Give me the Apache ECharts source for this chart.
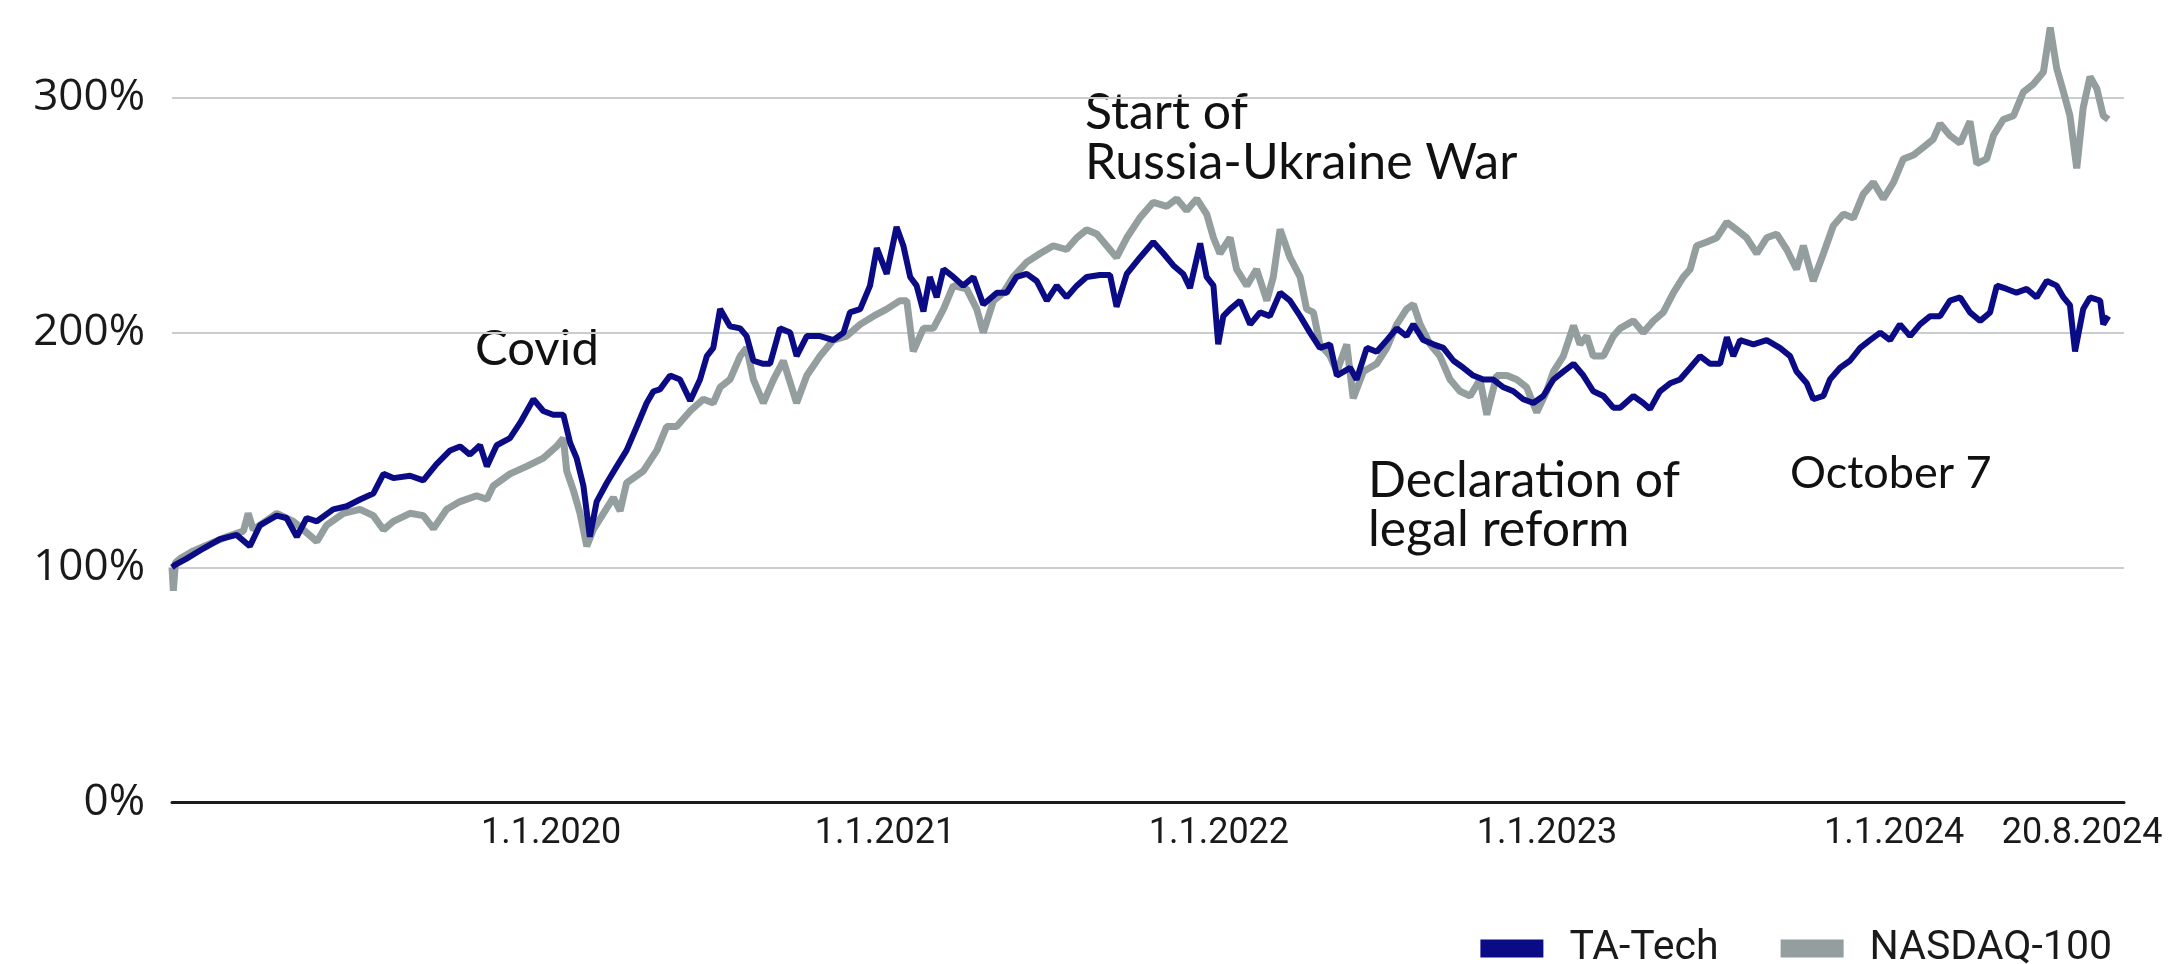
<!DOCTYPE html>
<html>
<head>
<meta charset="utf-8">
<script src="https://cdn.jsdelivr.net/npm/echarts@6.0.0/dist/echarts.min.js"></script>
<style>
  html, body { margin: 0; padding: 0; background: #fff; }
  #chart { width: 2173px; height: 964px; }
</style>
</head>
<body>
<div id="chart"></div>
<script>
// x values are years since 1.1.2019
const taTechYears = [0.000, 0.009, 0.043, 0.092, 0.141, 0.190, 0.229, 0.259, 0.308, 0.337, 0.367, 0.396, 0.426, 0.474, 0.514, 0.553, 0.592, 0.622, 0.651, 0.700, 0.739, 0.778, 0.818, 0.847, 0.876, 0.906, 0.926, 0.955, 0.994, 1.024, 1.063, 1.092, 1.121, 1.151, 1.171, 1.190, 1.210, 1.229, 1.249, 1.279, 1.308, 1.337, 1.367, 1.396, 1.416, 1.435, 1.465, 1.494, 1.524, 1.553, 1.573, 1.592, 1.612, 1.641, 1.671, 1.690, 1.710, 1.739, 1.759, 1.788, 1.818, 1.837, 1.867, 1.906, 1.945, 1.975, 1.994, 2.024, 2.053, 2.073, 2.102, 2.131, 2.151, 2.171, 2.190, 2.210, 2.229, 2.249, 2.269, 2.298, 2.327, 2.357, 2.386, 2.426, 2.455, 2.484, 2.514, 2.543, 2.573, 2.602, 2.631, 2.661, 2.690, 2.729, 2.759, 2.778, 2.808, 2.847, 2.886, 2.916, 2.945, 2.974, 2.994, 3.024, 3.043, 3.063, 3.077, 3.092, 3.112, 3.141, 3.171, 3.200, 3.229, 3.259, 3.288, 3.318, 3.347, 3.376, 3.406, 3.426, 3.465, 3.484, 3.514, 3.543, 3.573, 3.602, 3.631, 3.651, 3.680, 3.710, 3.739, 3.769, 3.798, 3.827, 3.857, 3.886, 3.916, 3.945, 3.974, 4.004, 4.033, 4.063, 4.092, 4.122, 4.151, 4.180, 4.210, 4.239, 4.259, 4.298, 4.327, 4.347, 4.376, 4.406, 4.435, 4.465, 4.494, 4.524, 4.553, 4.573, 4.592, 4.612, 4.651, 4.690, 4.729, 4.759, 4.778, 4.808, 4.827, 4.857, 4.876, 4.906, 4.935, 4.965, 4.994, 5.024, 5.053, 5.082, 5.112, 5.141, 5.171, 5.200, 5.229, 5.259, 5.288, 5.318, 5.347, 5.367, 5.396, 5.425, 5.455, 5.484, 5.514, 5.543, 5.563, 5.582, 5.597, 5.621, 5.641, 5.671, 5.680, 5.695];
const taTech = [100, 101, 103.7, 108, 112, 113.8, 109, 118, 122, 121, 113, 121, 119.6, 124.7, 126, 128.9, 131.4, 139.8, 138, 139, 137, 144, 149.8, 151.5, 148, 152, 143, 152, 155, 161.6, 171.6, 166.6, 165, 165, 153, 146.5, 134.7, 113, 128, 136, 143, 149.8, 160, 170, 175, 175.8, 181.7, 180, 171, 180, 190, 193.5, 210, 202.7, 201.8, 198.5, 188, 186.7, 186.7, 201.8, 200, 190, 198.5, 198.5, 196.8, 200, 208.6, 210, 220, 236, 225, 245, 237, 223.7, 220, 209, 223.7, 215, 227, 223.7, 220, 223.7, 212, 217, 217, 223.7, 225, 222, 213.6, 220, 215, 220, 223.7, 224.5, 224.5, 211, 225, 232, 238.6, 233.7, 228.6, 225, 219, 238, 223.7, 220, 195, 207, 210, 213.6, 203.5, 208.6, 207, 217, 213.6, 207, 200, 193.5, 195, 181.7, 185, 180, 193.5, 191.8, 196.8, 201.8, 198.5, 203.5, 196.8, 195, 193.5, 188, 185, 181.7, 180, 180, 176.7, 175, 171.6, 170, 173, 180, 183.4, 186.7, 181.7, 175, 173, 168, 168, 173, 170, 167.4, 175, 178.4, 180, 185, 190, 186.7, 186.7, 198, 190, 196.8, 195, 196.8, 193.5, 190, 183.4, 178.4, 171.6, 173, 180, 185, 188, 193.5, 196.8, 200, 196.8, 203.5, 198.5, 203.5, 207, 207, 213.6, 215, 208.6, 205, 208.6, 220, 218.6, 217, 218.6, 215, 222, 220, 215, 211.7, 192, 210, 215, 213.6, 203.5, 207];

const nasdaqYears = [0.000, 0.004, 0.010, 0.024, 0.063, 0.112, 0.161, 0.210, 0.224, 0.239, 0.259, 0.308, 0.357, 0.386, 0.426, 0.455, 0.504, 0.553, 0.592, 0.622, 0.651, 0.700, 0.739, 0.769, 0.808, 0.847, 0.896, 0.926, 0.945, 0.994, 1.043, 1.092, 1.131, 1.151, 1.161, 1.180, 1.200, 1.220, 1.239, 1.269, 1.298, 1.318, 1.337, 1.386, 1.426, 1.455, 1.484, 1.524, 1.563, 1.592, 1.612, 1.641, 1.671, 1.690, 1.710, 1.739, 1.769, 1.798, 1.837, 1.867, 1.906, 1.945, 1.984, 2.024, 2.063, 2.102, 2.141, 2.161, 2.180, 2.210, 2.239, 2.269, 2.298, 2.337, 2.367, 2.386, 2.416, 2.445, 2.474, 2.514, 2.553, 2.592, 2.631, 2.661, 2.690, 2.720, 2.749, 2.778, 2.808, 2.847, 2.886, 2.926, 2.955, 2.984, 3.014, 3.043, 3.063, 3.082, 3.112, 3.131, 3.161, 3.190, 3.220, 3.239, 3.259, 3.288, 3.318, 3.337, 3.357, 3.376, 3.406, 3.426, 3.455, 3.474, 3.504, 3.543, 3.573, 3.602, 3.631, 3.651, 3.671, 3.700, 3.729, 3.759, 3.788, 3.818, 3.847, 3.867, 3.896, 3.926, 3.955, 3.984, 4.014, 4.043, 4.063, 4.092, 4.122, 4.141, 4.161, 4.180, 4.210, 4.239, 4.259, 4.298, 4.327, 4.357, 4.386, 4.416, 4.445, 4.465, 4.484, 4.514, 4.543, 4.573, 4.602, 4.631, 4.661, 4.690, 4.720, 4.749, 4.778, 4.798, 4.827, 4.857, 4.886, 4.916, 4.945, 4.974, 5.004, 5.033, 5.063, 5.092, 5.122, 5.151, 5.180, 5.200, 5.229, 5.259, 5.288, 5.308, 5.337, 5.357, 5.386, 5.416, 5.445, 5.474, 5.504, 5.524, 5.543, 5.563, 5.582, 5.602, 5.621, 5.641, 5.661, 5.680, 5.695];
const nasdaq = [100, 90, 102, 103.7, 107, 110, 113, 115.4, 123, 116, 118, 123, 119.6, 116, 111, 118, 123, 124.7, 122, 116, 119.6, 123, 122, 116.5, 124.7, 128, 130.5, 129, 134.7, 139.8, 143, 146.5, 151.5, 155, 141, 133, 123, 109, 116, 123, 129.7, 124, 136, 141, 149.8, 160, 160, 166.6, 171.6, 170, 176.7, 180, 190, 193.5, 180, 170, 180, 188, 170, 181.7, 190, 196.8, 198.5, 203.5, 207, 210, 213.6, 213.6, 192, 201.8, 201.8, 210, 220, 218.6, 210, 200, 213.6, 217, 223.7, 230, 233.7, 237, 235.4, 240.4, 243.8, 242, 237, 232, 240.4, 249, 255.5, 253.8, 257, 252, 257, 250.5, 240.4, 233.7, 240.4, 227, 220, 227, 213.6, 223.7, 244, 232, 223.7, 210, 208.6, 195, 190, 183.4, 195, 172, 183.4, 186.7, 193.5, 203.5, 210, 212, 203.5, 195, 190, 180, 175, 173, 180, 165, 181.7, 181.7, 180, 176.7, 166, 175, 183.4, 190, 203, 195, 198.5, 190, 190, 198.5, 201.8, 205, 200, 205, 208.6, 217, 223.7, 227, 237, 238.6, 240.4, 247, 243.8, 240.4, 233.7, 240.4, 242, 235.4, 227, 237, 222, 233.7, 245.5, 250.5, 248.8, 259, 264, 257, 264, 274, 275.7, 279, 282.4, 289, 284, 280.7, 290, 272, 274, 284, 290.8, 292.4, 302.5, 305.8, 311, 330, 312.6, 302.5, 292.4, 270, 295.8, 309, 304, 292.4, 290.8];

const xTickPos = [1.115, 2.097, 3.079, 4.044, 5.065, 5.618];
const xTickLabels = ['1.1.2020', '1.1.2021', '1.1.2022', '1.1.2023', '1.1.2024', '20.8.2024'];

const chart = echarts.init(document.getElementById('chart'));

const tickFont = "Roboto, 'Noto Sans', sans-serif";
const note = "Lato, 'Noto Sans', sans-serif";

const option = {
  animation: false,
  backgroundColor: '#ffffff',
  grid: { left: 172, right: 49, top: 4, bottom: 162 },
  legend: {
    data: ['TA-Tech', 'NASDAQ-100'],
    right: 56,
    top: 923,
    icon: 'rect',
    itemWidth: 63,
    itemHeight: 18,
    itemGap: 62,
    textStyle: {
      fontFamily: tickFont,
      fontSize: 41,
      color: '#1a1a1a',
      padding: [0, 0, 0, 21]
    }
  },
  xAxis: {
    type: 'value',
    min: 0,
    max: 5.741,
    axisLine: { show: true, onZero: false, lineStyle: { color: '#1a1a1a', width: 3 } },
    axisTick: { show: false },
    splitLine: { show: false },
    axisLabel: {
      customValues: xTickPos,
      formatter: v => {
        let best = 0
        xTickPos.forEach((p, i) => {
          if (Math.abs(p - v) < Math.abs(xTickPos[best] - v)) best = i
        })
        return xTickLabels[best]
      },
      fontFamily: tickFont,
      fontSize: 36,
      lineHeight: 40,
      color: '#1a1a1a',
      margin: 12
    }
  },
  yAxis: {
    type: 'value',
    min: 0,
    max: 340,
    interval: 100,
    axisLine: { show: false },
    axisTick: { show: false },
    splitLine: {
      show: true,
      showMinLine: false,
      showMaxLine: false,
      lineStyle: { color: '#c9cdcd', width: 2 }
    },
    axisLabel: {
      formatter: '{value}%',
      showMaxLabel: false,
      fontFamily: "'Open Sans', sans-serif",
      fontSize: 44,
      color: '#1a1a1a',
      margin: 27
    }
  },
  graphic: [
    { type: 'text', x: 475, y: 349, style: { text: 'Covid', font: '49px ' + note, fill: '#111', verticalAlign: 'middle' } },
    { type: 'text', x: 1085, y: 138, style: { text: 'Start of\nRussia-Ukraine War', font: '50px ' + note, lineHeight: 50, fill: '#111', verticalAlign: 'middle' } },
    { type: 'text', x: 1368, y: 505, style: { text: 'Declaration of\nlegal reform', font: '50px ' + note, lineHeight: 49, fill: '#111', verticalAlign: 'middle' } },
    { type: 'text', x: 1790, y: 473, style: { text: 'October 7', font: '45px ' + note, fill: '#111', verticalAlign: 'middle' } }
  ],
  series: [
    {
      name: 'NASDAQ-100',
      type: 'line',
      data: nasdaqYears.map((x, i) => [x, nasdaq[i]]),
      showSymbol: false,
      z: 2,
      itemStyle: { color: '#959e9e' },
      lineStyle: { color: '#959e9e', width: 7 }
    },
    {
      name: 'TA-Tech',
      type: 'line',
      data: taTechYears.map((x, i) => [x, taTech[i]]),
      showSymbol: false,
      z: 3,
      itemStyle: { color: '#0b0b86' },
      lineStyle: { color: '#0b0b86', width: 6 }
    }
  ]
}

chart.setOption(option)
</script>
</body>
</html>
